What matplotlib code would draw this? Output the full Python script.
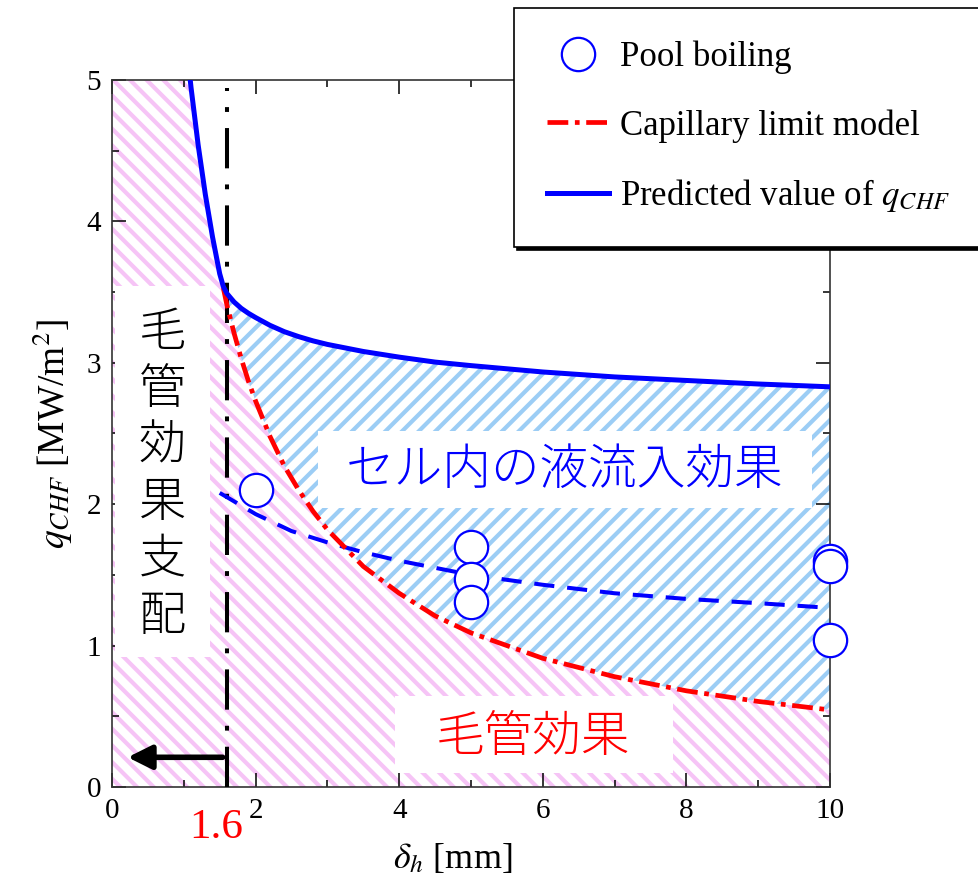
import numpy as np
import matplotlib.pyplot as plt
from matplotlib.patches import Rectangle

plt.rcParams['font.family'] = ['Liberation Serif', 'Noto Sans CJK JP']
plt.rcParams['mathtext.fontset'] = 'stix'
plt.rcParams['hatch.linewidth'] = 3.0

# capillary limit model (steep part hidden under the predicted line)
dh_steep = [1.05, 1.1, 1.2, 1.3, 1.4, 1.5]
q_steep = [5.19, 4.95, 4.54, 4.19, 3.89, 3.63]

dh = [1.55, 1.6, 1.7, 1.8, 1.9, 2.0, 2.2, 2.4, 2.6, 2.8, 3.0, 3.5, 4.0, 4.5,
      5.0, 6.0, 7.0, 8.0, 9.0, 10.0]
q_cap = [3.53, 3.41, 3.21, 3.03, 2.87, 2.73, 2.48, 2.27, 2.10, 1.95, 1.82, 1.56, 1.37, 1.21,
         1.09, 0.91, 0.78, 0.68, 0.605, 0.545]
q_pred = [3.54, 3.49, 3.43, 3.385, 3.35, 3.32, 3.265, 3.22, 3.185, 3.155, 3.13, 3.08, 3.04, 3.005,
          2.98, 2.935, 2.90, 2.875, 2.85, 2.83]

# dashed blue line
dh_wall = [1.5, 2.0, 2.5, 3.0, 3.5, 4.0, 5.0, 6.0, 7.0, 8.0, 9.0, 9.9]
q_wall = [2.08, 1.93, 1.81, 1.73, 1.66, 1.60, 1.50, 1.43, 1.37, 1.33, 1.30, 1.27]

# pool boiling experiments
pool_dh = [2, 5, 5, 5, 10, 10, 10]
pool_q = [2.10, 1.70, 1.47, 1.31, 1.60, 1.56, 1.04]

dh_limit = 1.6

fig = plt.figure(figsize=(9.79, 8.8), dpi=100)
ax = fig.add_axes([0.1144, 0.1057, 0.7334, 0.8034])

pink = '#f6c4f6'
lblue = '#9ccdf5'

# hatched regions
x_pink = [0] + dh_steep + dh
y_pink = [q_steep[0]] + q_steep + q_cap
ax.fill_between(x_pink, 0, y_pink, facecolor='none', edgecolor=pink,
                hatch='\\\\', linewidth=0, zorder=1)
ax.fill_between(dh, q_cap, q_pred, facecolor='none', edgecolor=lblue,
                hatch='//', linewidth=0, zorder=1)

# white boxes behind the annotations
for x0, y0, w, h in [(0.04, 0.92, 1.33, 2.62), (2.87, 1.97, 6.88, 0.55), (3.94, 0.10, 3.87, 0.54)]:
    ax.add_patch(Rectangle((x0, y0), w, h, facecolor='white', edgecolor='none', zorder=2))

jp = ['Noto Sans CJK JP', 'DejaVu Sans']
ax.text(0.70, 2.21, '\n'.join('毛管効果支配'), family=jp, fontsize=34, ha='center', va='center',
        linespacing=1.21, fontweight='light', zorder=3)
ax.text(6.3, 2.24, 'セル内の液流入効果', family=jp, fontsize=35, color='#0000ff',
        ha='center', va='center', fontweight='light', zorder=3)
ax.text(5.87, 0.35, '毛管効果', family=jp, fontsize=35, color='#ff0000',
        ha='center', va='center', fontweight='light', zorder=3)

# lines
ax.plot([dh_limit, dh_limit], [0, 4.94], color='k', lw=2.9, dashes=(10, 4, 1.2, 4), zorder=4)
ax.plot(dh_wall, q_wall, color='#0000ff', lw=2.9, dashes=(5, 3.2), zorder=4)
l_cap, = ax.plot(dh, q_cap, color='#ff0000', lw=3.4, dashes=(4.4, 1.4, 1, 1.4), zorder=4,
                 label='Capillary limit model')
l_pred, = ax.plot(dh_steep + dh, q_steep + q_pred, color='#0000ff', lw=3.6, zorder=5,
                  label='Predicted value of $q_{CHF}$')
l_pool, = ax.plot(pool_dh, pool_q, 'o', ms=24, mfc='white', mec='#0000ff', mew=1.6,
                  clip_on=False, zorder=6, label='Pool boiling')

ax.annotate('', xy=(0.18, 0.21), xytext=(1.58, 0.21),
            arrowprops=dict(arrowstyle='-|>', color='k', lw=4, mutation_scale=36), zorder=4)

ax.set_xlim(0, 10)
ax.set_ylim(0, 5)
ax.set_xticks([0, 2, 4, 6, 8, 10])
ax.set_xticks(np.arange(1, 10, 2), minor=True)
ax.set_yticks([0, 1, 2, 3, 4, 5])
ax.set_yticks(np.arange(0.5, 5, 1), minor=True)
ax.tick_params(which='both', direction='in', top=True, right=True, labelsize=21, width=1.1)
ax.tick_params(which='major', length=10, pad=8)
ax.tick_params(which='minor', length=5)
for s in ax.spines.values():
    s.set_linewidth(1.2)
    s.set_color('#333333')

ax.set_xlabel(r'$\delta_h$ [mm]', fontsize=26)
ax.xaxis.set_label_coords(0.474, -0.078)
ax.set_ylabel(r'$q_{CHF}$ [MW/m$^2$]', fontsize=27, labelpad=8)

ax.text(1.45, -0.29, '1.6', color='#ff0000', fontsize=31, ha='center', va='center', clip_on=False)

leg = fig.legend(handles=[l_pool, l_cap, l_pred], loc='upper left',
                 bbox_to_anchor=(0.525, 0.991), borderaxespad=0, fontsize=25, numpoints=1,
                 fancybox=False, shadow={'color': 'k', 'alpha': 1}, framealpha=1,
                 edgecolor='k', handlelength=1.8, handletextpad=0.3,
                 labelspacing=1.0, borderpad=0.95)
leg.get_frame().set_linewidth(1.2)
leg.set_zorder(10)

fig.savefig('out.png', dpi=100)
